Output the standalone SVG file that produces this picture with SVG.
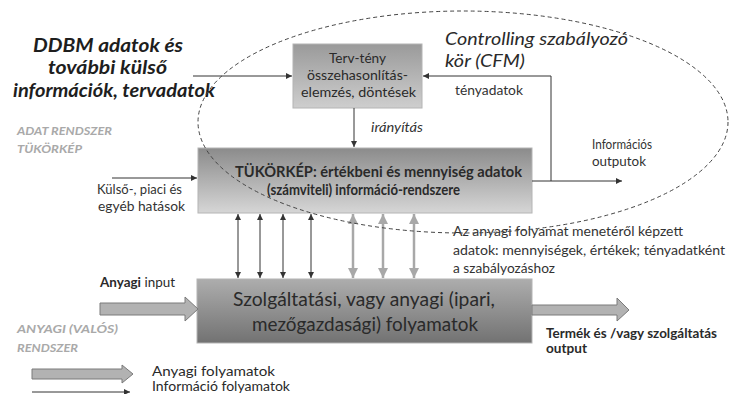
<svg xmlns="http://www.w3.org/2000/svg" width="739" height="394" viewBox="0 0 739 394">
<style>
text{font-family:Lato,"Open Sans","Liberation Sans",sans-serif;fill:#2a2a2a}
.big{font-size:19.5px;font-weight:bold;font-style:italic;fill:#1e1e1e}
.gray{font-size:11.5px;font-weight:bold;font-style:italic;fill:#a9a9a9}
.sm{font-size:13px;fill:#333}
.it{font-style:italic}
.bx{stroke:#b4b4b4;stroke-width:1}
.ln{stroke:#333;stroke-width:1;fill:none}
.gln{stroke:#a8a8a8;stroke-width:2.5;fill:none}
.blk{fill:#b2b2b2;stroke:#7a7a7a;stroke-width:1}
</style>
<defs>
<linearGradient id="gTop" x1="0" y1="0" x2="0" y2="1"><stop offset="0" stop-color="#9a9a9a"/><stop offset="1" stop-color="#cecece"/></linearGradient>
<linearGradient id="gMid" x1="0" y1="0" x2="0" y2="1"><stop offset="0" stop-color="#8b8b8b"/><stop offset="1" stop-color="#d6d6d6"/></linearGradient>
<linearGradient id="gBot" x1="0" y1="0" x2="0" y2="1"><stop offset="0" stop-color="#adadad"/><stop offset="1" stop-color="#727272"/></linearGradient>
<marker id="ah" viewBox="0 0 10 10" refX="10" refY="5" markerWidth="6" markerHeight="6" markerUnits="userSpaceOnUse" orient="auto-start-reverse"><path d="M0,0 L10,5 L0,10 z" fill="#333"/></marker>
<marker id="gah" viewBox="0 0 10 10" refX="10" refY="5" markerWidth="10" markerHeight="10" markerUnits="userSpaceOnUse" orient="auto-start-reverse"><path d="M0,0 L10,5 L0,10 z" fill="#a8a8a8"/></marker>
</defs>
<rect width="739" height="394" fill="#fff"/>

<g id="labels">
<text class="big" x="33" y="52" textLength="150" lengthAdjust="spacingAndGlyphs">DDBM adatok és</text>
<text class="big" x="48" y="74" textLength="119" lengthAdjust="spacingAndGlyphs">további külső</text>
<text class="big" x="13" y="97" textLength="202" lengthAdjust="spacingAndGlyphs">információk, tervadatok</text>
<text class="gray" x="17" y="135" textLength="95" lengthAdjust="spacingAndGlyphs">ADAT RENDSZER</text>
<text class="gray" x="17" y="153" textLength="65" lengthAdjust="spacingAndGlyphs">TÜKÖRKÉP</text>
<text class="sm" x="97" y="194" textLength="85" lengthAdjust="spacingAndGlyphs">Külső-, piaci és</text>
<text class="sm" x="98" y="211" textLength="87" lengthAdjust="spacingAndGlyphs">egyéb hatások</text>
<text class="it" x="445" y="45" font-size="18" textLength="183" lengthAdjust="spacingAndGlyphs" fill="#333">Controlling szabályozó</text>
<text class="it" x="445" y="67" font-size="18" textLength="80" lengthAdjust="spacingAndGlyphs" fill="#333">kör (CFM)</text>
<text class="sm it" x="371" y="132" textLength="52" lengthAdjust="spacingAndGlyphs">irányítás</text>
<text class="sm" x="455" y="95" textLength="68" lengthAdjust="spacingAndGlyphs">tényadatok</text>
<text class="sm" x="592" y="149" textLength="60" lengthAdjust="spacingAndGlyphs">Információs</text>
<text class="sm" x="592" y="166" textLength="54" lengthAdjust="spacingAndGlyphs">outputok</text>
<text class="sm" x="453" y="236" textLength="230" lengthAdjust="spacingAndGlyphs">Az anyagi folyamat menetéről képzett</text>
<text class="sm" x="453" y="255" textLength="272" lengthAdjust="spacingAndGlyphs">adatok: mennyiségek, értékek; tényadatként</text>
<text class="sm" x="453" y="273" textLength="102" lengthAdjust="spacingAndGlyphs">a szabályozáshoz</text>
<text x="100" y="287" font-size="13.5" textLength="75" lengthAdjust="spacingAndGlyphs"><tspan font-weight="bold">Anyagi</tspan> input</text>
<text x="546" y="338" font-size="13" font-weight="bold" textLength="171" lengthAdjust="spacingAndGlyphs">Termék és /vagy szolgáltatás</text>
<text x="546" y="353" font-size="13" font-weight="bold" textLength="41" lengthAdjust="spacingAndGlyphs">output</text>
<text class="gray" x="17" y="333" font-size="12" textLength="101" lengthAdjust="spacingAndGlyphs">ANYAGI (VALÓS)</text>
<text class="gray" x="17" y="352" font-size="12" textLength="61" lengthAdjust="spacingAndGlyphs">RENDSZER</text>
<text x="152" y="376" font-size="12.5" textLength="123" lengthAdjust="spacingAndGlyphs">Anyagi folyamatok</text>
<text x="152" y="391" font-size="12.5" textLength="138" lengthAdjust="spacingAndGlyphs">Információ folyamatok</text>
</g>

<g id="node-terv">
<rect class="bx" x="293" y="44" width="129" height="64" fill="url(#gTop)"/>
<text x="357.5" y="63" font-size="13.5" text-anchor="middle" textLength="57" lengthAdjust="spacingAndGlyphs">Terv-tény</text>
<text x="357.5" y="80" font-size="13.5" text-anchor="middle" textLength="101" lengthAdjust="spacingAndGlyphs">összehasonlítás-</text>
<text x="358.5" y="97" font-size="13.5" text-anchor="middle" textLength="115" lengthAdjust="spacingAndGlyphs">elemzés, döntések</text>
</g>

<g id="node-tukorkep">
<rect class="bx" x="198" y="148" width="334" height="65" fill="url(#gMid)"/>
<text x="235" y="177" font-size="14.5" font-weight="bold" fill="#1e1e1e" textLength="287" lengthAdjust="spacingAndGlyphs">TÜKÖRKÉP: értékbeni és mennyiség adatok</text>
<text x="267" y="195" font-size="14.5" font-weight="bold" fill="#1e1e1e" textLength="193" lengthAdjust="spacingAndGlyphs">(számviteli) információ-rendszere</text>
</g>

<g id="node-folyamat">
<rect class="bx" x="197" y="279" width="335" height="64" fill="url(#gBot)"/>
<text x="364" y="306" font-size="18.5" text-anchor="middle" fill="#1a1a1a" textLength="262" lengthAdjust="spacingAndGlyphs">Szolgáltatási, vagy anyagi (ipari,</text>
<text x="365" y="331" font-size="18.5" text-anchor="middle" fill="#1a1a1a" textLength="226" lengthAdjust="spacingAndGlyphs">mezőgazdasági) folyamatok</text>
</g>

<g id="connectors">
<line class="ln" x1="193" y1="76" x2="292" y2="76" marker-end="url(#ah)"/>
<line class="ln" x1="112" y1="178" x2="197" y2="178" marker-end="url(#ah)"/>
<line class="ln" x1="354" y1="108" x2="354" y2="147" marker-end="url(#ah)"/>
<polyline class="ln" points="551,181 551,76 423,76" stroke="#555" marker-end="url(#ah)"/>
<line class="ln" x1="532" y1="181" x2="622" y2="181" stroke="#555" marker-end="url(#ah)"/>
<line class="ln" x1="238" y1="214" x2="238" y2="278" marker-start="url(#ah)" marker-end="url(#ah)"/>
<line class="ln" x1="260" y1="214" x2="260" y2="278" marker-start="url(#ah)" marker-end="url(#ah)"/>
<line class="ln" x1="283" y1="214" x2="283" y2="278" marker-start="url(#ah)" marker-end="url(#ah)"/>
<line class="ln" x1="311" y1="214" x2="311" y2="278" marker-start="url(#ah)" marker-end="url(#ah)"/>
<line class="gln" x1="353" y1="214" x2="353" y2="278" marker-start="url(#gah)" marker-end="url(#gah)"/>
<line class="gln" x1="383" y1="214" x2="383" y2="278" marker-start="url(#gah)" marker-end="url(#gah)"/>
<line class="gln" x1="414" y1="214" x2="414" y2="278" marker-start="url(#gah)" marker-end="url(#gah)"/>
<polygon class="blk" points="100,303 185,303 185,297 198,309 185,321 185,315 100,315"/>
<polygon class="blk" points="532,305 617,305 617,298 629,310 617,321 617,315 532,315"/>
<polygon class="blk" points="32,369 122,369 122,365 133,374 122,383 122,379 32,379"/>
<line class="ln" x1="32" y1="392" x2="130" y2="392" marker-end="url(#ah)"/>
<ellipse cx="463" cy="122" rx="265" ry="111" fill="none" stroke="#444" stroke-width="1" stroke-dasharray="4 3"/>
</g>
</svg>
